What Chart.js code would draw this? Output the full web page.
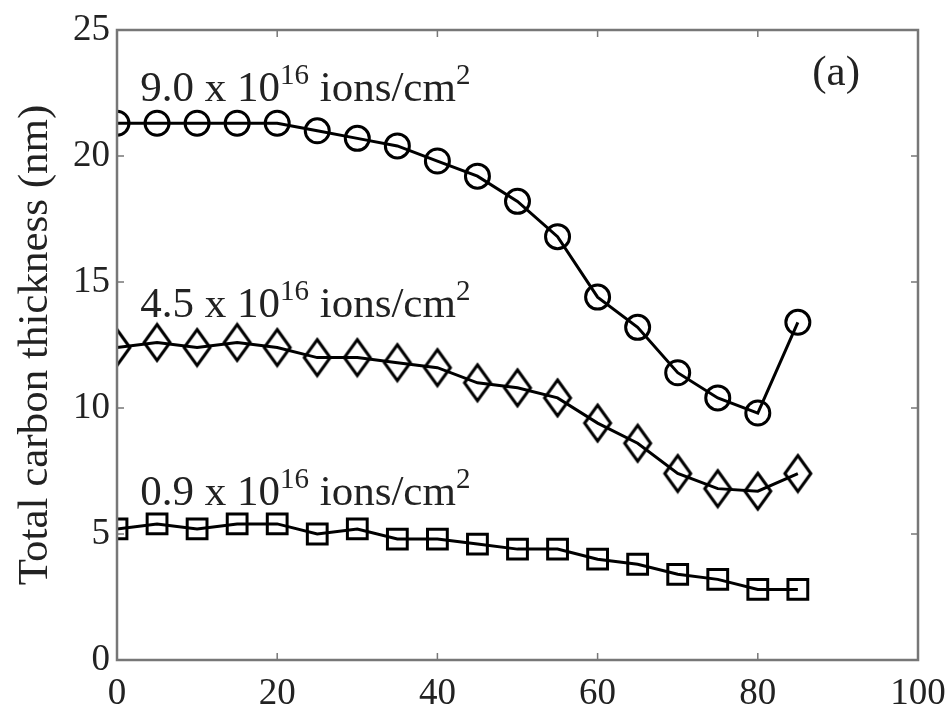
<!DOCTYPE html>
<html>
<head>
<meta charset="utf-8">
<script src="https://cdn.jsdelivr.net/npm/chart.js@4.4.1/dist/chart.umd.min.js"></script>
<style>
  body { margin: 0; background: #fff; }
  #wrap { width: 948px; height: 711px; }
</style>
</head>
<body>
<div id="wrap"><canvas id="myChart" width="948" height="711"></canvas></div>
<script>
// data
const angles = [0, 5, 10, 15, 20, 25, 30, 35, 40, 45, 50, 55, 60, 65, 70, 75, 80, 85];
const dose90 = [21.3, 21.3, 21.3, 21.3, 21.3, 21.0, 20.7, 20.4, 19.8, 19.2, 18.2, 16.8, 14.4, 13.2, 11.4, 10.4, 9.8, 13.4];
const dose45 = [12.4, 12.6, 12.4, 12.6, 12.4, 12.0, 12.0, 11.8, 11.6, 11.0, 10.8, 10.4, 9.4, 8.6, 7.4, 6.8, 6.7, 7.4];
const dose09 = [5.2, 5.4, 5.2, 5.4, 5.4, 5.0, 5.2, 4.8, 4.8, 4.6, 4.4, 4.4, 4.0, 3.8, 3.4, 3.2, 2.8, 2.8];
const xTicks = [0, 20, 40, 60, 80, 100];
const yTicks = [0, 5, 10, 15, 20, 25];
const doseLabels = [
  { x: 2.9, y: 22.2, base: '9.0 x 10', exp: '16' },
  { x: 2.9, y: 13.6, base: '4.5 x 10', exp: '16' },
  { x: 2.9, y: 6.15, base: '0.9 x 10', exp: '16' }
];

const FONT = '"Liberation Serif", "Times New Roman", serif';

// tall diamond marker
function makeDiamond(w, h, lw) {
  const c = document.createElement('canvas');
  c.width = w + lw * 2; c.height = h + lw * 2;
  const g = c.getContext('2d');
  const cx = c.width / 2, cy = c.height / 2;
  g.strokeStyle = '#000';
  g.lineWidth = lw;
  g.beginPath();
  g.moveTo(cx, cy - h / 2);
  g.lineTo(cx + w / 2, cy);
  g.lineTo(cx, cy + h / 2);
  g.lineTo(cx - w / 2, cy);
  g.closePath();
  g.stroke();
  return c;
}
const diamond = makeDiamond(26, 36, 3);

const toPts = (ys) => ys.map((v, i) => ({ x: angles[i], y: v }));

// frame with inward ticks + text annotations
const framePlugin = {
  id: 'framePlugin',
  afterDraw(chart) {
    const { ctx, chartArea: { left, right, top, bottom }, scales: { x, y } } = chart;
    ctx.save();
    ctx.strokeStyle = '#777';
    ctx.lineWidth = 2.5;
    ctx.strokeRect(left, top, right - left, bottom - top);
    ctx.lineWidth = 1.5;
    ctx.beginPath();
    xTicks.forEach(v => {
      const px = x.getPixelForValue(v);
      ctx.moveTo(px, bottom); ctx.lineTo(px, bottom - 7);
      ctx.moveTo(px, top); ctx.lineTo(px, top + 7);
    });
    yTicks.forEach(v => {
      const py = y.getPixelForValue(v);
      ctx.moveTo(left, py); ctx.lineTo(left + 7, py);
      ctx.moveTo(right, py); ctx.lineTo(right - 7, py);
    });
    ctx.stroke();

    ctx.fillStyle = '#222';
    ctx.textBaseline = 'alphabetic';
    ctx.textAlign = 'left';
    doseLabels.forEach(l => {
      let px = x.getPixelForValue(l.x);
      const py = y.getPixelForValue(l.y);
      ctx.font = `43px ${FONT}`;
      ctx.fillText(l.base, px, py);
      px += ctx.measureText(l.base).width;
      ctx.font = `29px ${FONT}`;
      ctx.fillText(l.exp, px, py - 17);
      px += ctx.measureText(l.exp).width;
      ctx.font = `43px ${FONT}`;
      ctx.fillText(' ions/cm', px, py);
      px += ctx.measureText(' ions/cm').width;
      ctx.font = `29px ${FONT}`;
      ctx.fillText('2', px, py - 17);
    });
    ctx.font = `43px ${FONT}`;
    ctx.fillText('(a)', x.getPixelForValue(86.8), y.getPixelForValue(22.8));
    ctx.restore();
  }
};

const lineStyle = {
  borderColor: '#000',
  borderWidth: 3,
  pointBorderColor: '#000',
  pointBorderWidth: 3,
  pointBackgroundColor: 'rgba(0,0,0,0)',
  tension: 0
};

const config = {
  type: 'line',
  data: {
    datasets: [
      { ...lineStyle, label: '9.0', data: toPts(dose90), pointStyle: 'circle', pointRadius: 12 },
      { ...lineStyle, label: '4.5', data: toPts(dose45), pointStyle: diamond },
      { ...lineStyle, label: '0.9', data: toPts(dose09), pointStyle: 'rect', pointRadius: 14 }
    ]
  },
  options: {
    animation: false,
    responsive: false,
    layout: { padding: { left: 0, right: 30, top: 30, bottom: 0 } },
    plugins: {
      legend: { display: false },
      tooltip: { enabled: false }
    },
    scales: {
      x: {
        type: 'linear',
        min: 0,
        max: 100,
        afterBuildTicks: s => { s.ticks = xTicks.map(v => ({ value: v })); },
        afterFit: s => { s.height = 51; s.paddingLeft = 0; s.paddingRight = 0; },
        grid: { display: false, drawTicks: false },
        border: { display: false },
        ticks: { color: '#222', font: { family: FONT, size: 37 }, padding: 12, maxRotation: 0 }
      },
      y: {
        min: 0,
        max: 25,
        afterBuildTicks: s => { s.ticks = yTicks.map(v => ({ value: v })); },
        afterFit: s => { s.width = 117; s.paddingTop = 0; s.paddingBottom = 0; },
        grid: { display: false, drawTicks: false },
        border: { display: false },
        ticks: { color: '#222', font: { family: FONT, size: 37 }, padding: 7 },
        title: {
          display: true,
          text: 'Total carbon thickness (nm)',
          color: '#222',
          font: { family: FONT, size: 43 },
          padding: { top: 10, bottom: 0 }
        }
      }
    }
  },
  plugins: [framePlugin]
};

const myChart = new Chart(document.getElementById('myChart'), config);
</script>
</body>
</html>
